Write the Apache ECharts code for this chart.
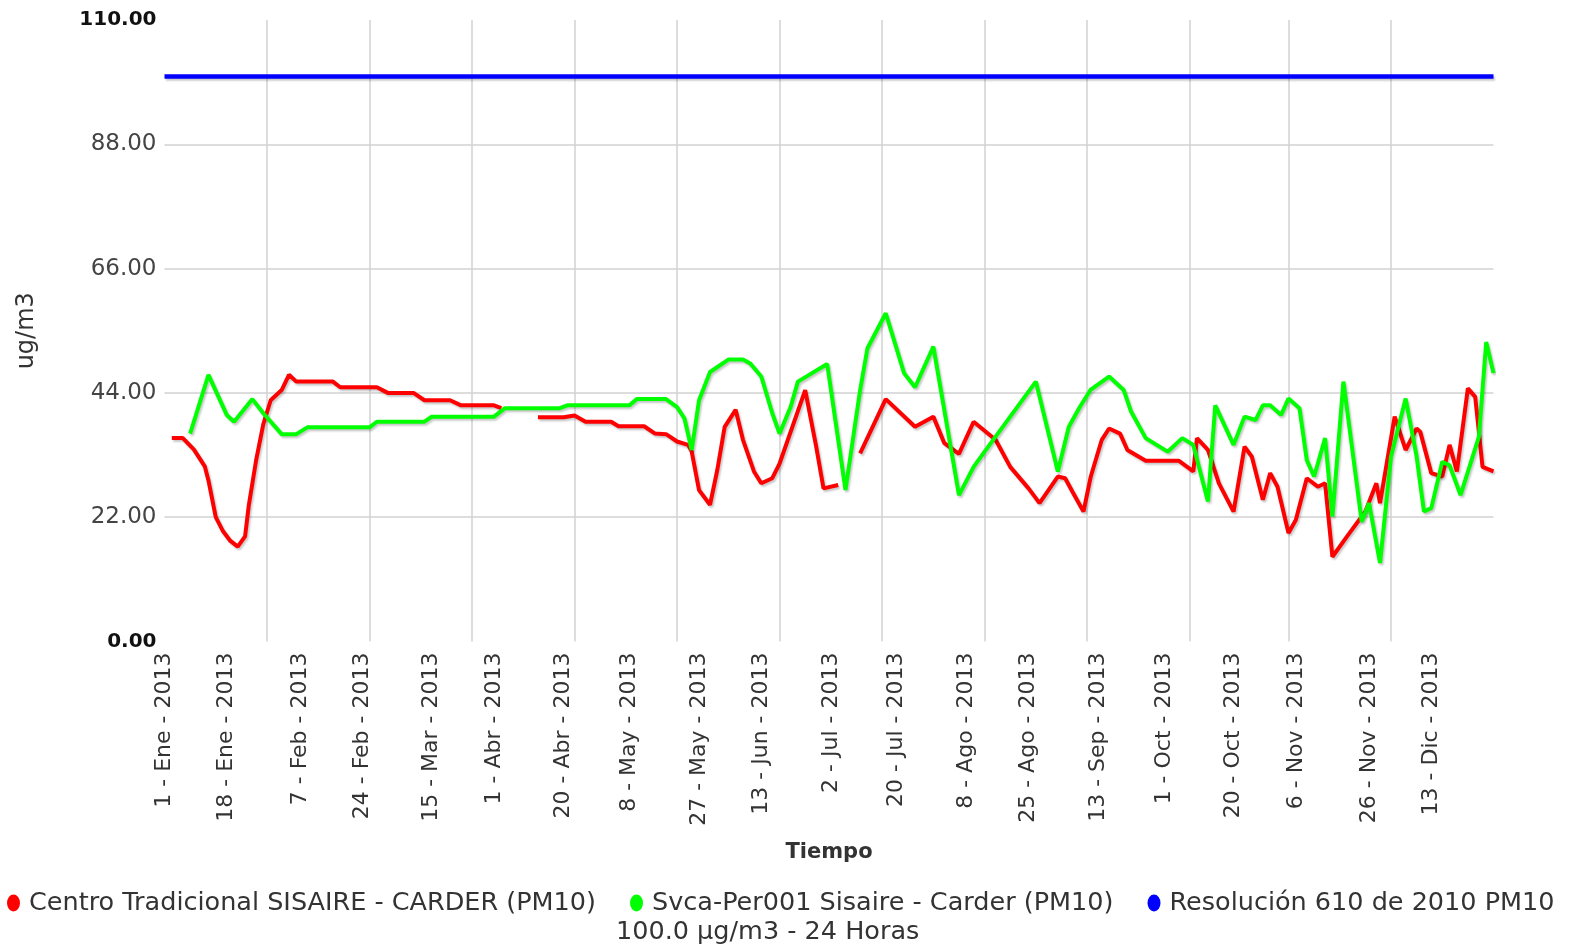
<!DOCTYPE html>
<html>
<head>
<meta charset="utf-8">
<script src="https://cdn.jsdelivr.net/npm/echarts@6/dist/echarts.min.js"></script>
<style>
html,body{margin:0;padding:0;background:#fff;}
#c{width:1569px;height:949px;}
</style>
</head>
<body>
<div id="c"></div>
<script>
// ---- data (day index from 1 - Ene - 2013) ----
const monthNames = ['Ene','Feb','Mar','Abr','May','Jun','Jul','Ago','Sep','Oct','Nov','Dic'];
const tickLabels = ['1 - Ene - 2013','18 - Ene - 2013','7 - Feb - 2013','24 - Feb - 2013','15 - Mar - 2013',
  '1 - Abr - 2013','20 - Abr - 2013','8 - May - 2013','27 - May - 2013','13 - Jun - 2013','2 - Jul - 2013',
  '20 - Jul - 2013','8 - Ago - 2013','25 - Ago - 2013','13 - Sep - 2013','1 - Oct - 2013','20 - Oct - 2013',
  '6 - Nov - 2013','26 - Nov - 2013','13 - Dic - 2013'];
const yTicks = [0, 22, 44, 66, 88, 110];

const redDays = [2,5,8,11,12,14,16,18,20,22,23,25,27,29,32,34,36,46,48,58,61,68,71,78,81,90,92,95,
  102,109,112,115,122,124,131,134,137,140,143,144,146,149,151,153,156,158,161,163,166,168,175,178,180,184,186,
  190,197,205,210,213,217,221,227,231,236,239,244,246,248,251,253,256,258,261,263,268,277,281,282,285,288,292,
  295,297,300,302,304,307,309,312,315,317,319,323,328,331,332,336,339,342,343,346,349,351,353,356,358,360,363];
const redVals = [36.0,36.0,34.0,31.0,28.5,22.0,19.5,17.8,16.8,18.6,24.0,32.0,38.5,42.7,44.5,47.2,46.0,46.0,45.0,45.0,44.0,44.0,42.7,42.7,41.8,41.8,41.3,null,
  39.7,39.7,40.0,38.9,38.9,38.1,38.1,36.8,36.7,35.4,34.8,33.6,26.8,24.2,30.4,38.0,41.0,35.7,30.1,28.0,28.9,31.5,44.5,34.5,27.1,27.7,null,
  33.3,42.9,38.0,39.8,35.1,33.2,38.9,35.7,30.9,27.1,24.5,29.2,28.9,26.5,23.0,29.2,35.7,37.7,36.8,33.9,32.0,32.0,30.1,36.0,33.9,28.0,23.0,
  34.5,32.7,25.1,29.8,27.4,19.2,21.5,28.9,27.4,28.0,15.0,18.6,23.0,28.0,24.5,39.8,33.9,37.7,37.1,29.8,29.2,34.8,30.1,44.8,43.3,30.9,30.1];

const greenDays = [7,12,17,19,24,27,32,36,39,56,58,71,73,90,93,108,110,127,129,137,140,142,144,146,149,154,158,160,
  163,166,168,171,173,181,186,190,192,197,202,205,210,217,221,224,238,244,247,250,253,258,262,264,268,271,274,278,
  281,285,287,292,295,298,300,302,305,307,310,312,314,317,319,322,327,329,332,335,339,342,344,346,349,351,354,359,361,363];
const greenVals = [36.8,47.2,40.1,38.9,42.9,40.4,36.7,36.7,37.9,37.9,38.9,38.9,39.8,39.8,41.3,41.3,41.8,41.8,42.9,42.9,41.5,39.5,33.9,42.7,47.7,49.9,49.9,49.2,
  46.9,40.4,36.8,41.5,46.0,49.1,26.8,44.5,51.9,58.1,47.5,45.0,52.2,25.9,30.9,33.6,46.0,30.1,38.0,41.5,44.6,46.9,44.5,40.7,36.0,34.8,33.6,36.0,
  34.8,24.8,41.8,34.8,39.8,39.2,41.8,41.8,40.1,43.0,41.3,32.1,29.2,36.0,22.1,46.0,21.2,24.5,13.9,32.7,43.0,32.7,23.0,23.6,31.8,31.2,25.9,36.2,53.0,47.5];

const blueDays = [0, 363];
const blueVals = [100, 100];

const seriesNames = ['Centro Tradicional SISAIRE - CARDER (PM10)', 'Svca-Per001 Sisaire - Carder (PM10)', 'Resolución 610 de 2010 PM10'];
const seriesColors = ['#ff0000', '#00ff00', '#0000ff'];
const legendNote = '100.0 µg/m3 - 24 Horas';

// ---- build categories (one per day) ----
const categories = [];
for (let i = 0; i <= 363; i++) {
  const d = new Date(Date.UTC(2013, 0, 1 + i));
  categories.push(d.getUTCDate() + ' - ' + monthNames[d.getUTCMonth()] + ' - ' + d.getUTCFullYear());
}
const nDiv = 13;
const gridIdx = [];
for (let k = 1; k < nDiv; k++) gridIdx.push(Math.round(k * 363 / nDiv + 0.3));

const pairs = (xs, ys) => xs.map((x, i) => [x, ys[i]]);
const FONT = 'DejaVu Sans';

const shadow = { shadowColor: 'rgba(0,0,0,0.22)', shadowBlur: 2, shadowOffsetX: 1.5, shadowOffsetY: 2 };

const chart = echarts.init(document.getElementById('c'), null, { renderer: 'canvas' });
chart.setOption({
  animation: false,
  backgroundColor: '#fff',
  grid: { left: 164.5, right: 75.5, top: 20, bottom: 307.5, containLabel: false },
  xAxis: {
    type: 'category',
    data: categories,
    boundaryGap: false,
    name: 'Tiempo',
    nameLocation: 'middle',
    nameGap: 201,
    nameTextStyle: { fontFamily: FONT, fontSize: 21, fontWeight: 'bold', color: '#333' },
    axisLine: { show: false },
    axisTick: { show: false },
    axisLabel: {
      rotate: 90,
      margin: 11,
      fontFamily: FONT,
      fontSize: 22,
      color: '#333',
      interval: (idx, val) => tickLabels.indexOf(val) >= 0
    },
    splitLine: {
      show: true,
      interval: (idx) => gridIdx.indexOf(idx) >= 0,
      lineStyle: { color: '#d2d2d2', width: 1.5 }
    }
  },
  yAxis: {
    type: 'value',
    min: yTicks[0],
    max: yTicks[yTicks.length - 1],
    interval: yTicks[1] - yTicks[0],
    name: 'ug/m3',
    nameLocation: 'middle',
    nameGap: 126,
    nameTextStyle: { fontFamily: FONT, fontSize: 24, color: '#333' },
    axisLine: { show: false },
    axisTick: { show: false },
    splitLine: { show: true, showMinLine: false, showMaxLine: false, lineStyle: { color: '#d2d2d2', width: 1.5 } },
    axisLabel: {
      margin: 8,
      fontFamily: FONT,
      fontSize: 23,
      color: '#444',
      formatter: (v) => (v === yTicks[0] || v === yTicks[yTicks.length - 1]) ? '{b|' + v.toFixed(2) + '}' : v.toFixed(2),
      rich: { b: { fontFamily: FONT, fontSize: 20, fontWeight: 'bold', color: '#111' } }
    }
  },
  legend: {
    left: 2,
    top: 885,
    itemGap: 34,
    itemWidth: 13,
    itemHeight: 17,
    icon: 'path://M6.5,0 A6.5,8.5 0 1,1 6.5,17 A6.5,8.5 0 1,1 6.5,0 Z',
    textStyle: { fontFamily: FONT, fontSize: 25.5, color: '#333', padding: [0, 0, 0, 4] },
    data: seriesNames
  },
  graphic: [{
    type: 'text',
    left: 616,
    top: 919,
    style: { text: legendNote, font: '25.5px "DejaVu Sans"', fill: '#333' }
  }],
  series: [
    { name: seriesNames[0], type: 'line', data: pairs(redDays, redVals), showSymbol: false, connectNulls: false,
      itemStyle: { color: seriesColors[0] }, lineStyle: Object.assign({ color: seriesColors[0], width: 4 }, shadow) },
    { name: seriesNames[1], type: 'line', data: pairs(greenDays, greenVals), showSymbol: false,
      itemStyle: { color: seriesColors[1] }, lineStyle: Object.assign({ color: seriesColors[1], width: 4 }, shadow) },
    { name: seriesNames[2], type: 'line', data: pairs(blueDays, blueVals), showSymbol: false,
      itemStyle: { color: seriesColors[2] }, lineStyle: Object.assign({ color: seriesColors[2], width: 4.5 }, shadow) }
  ]
});
</script>
</body>
</html>
